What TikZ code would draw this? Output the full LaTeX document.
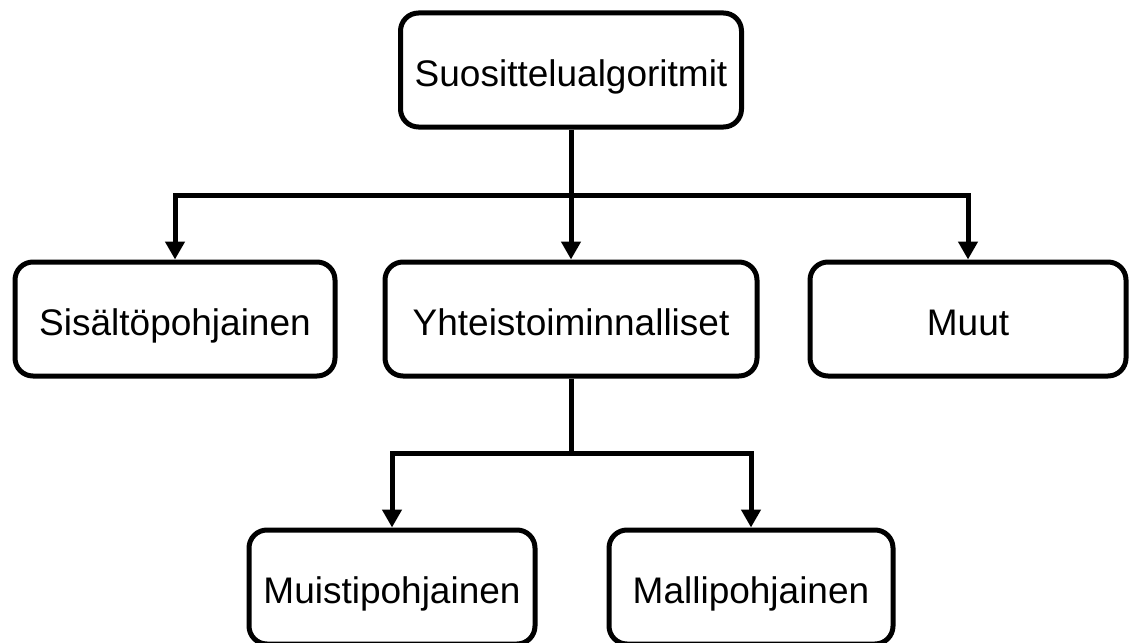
\documentclass[tikz,border=0pt]{standalone}
\usepackage{fontspec}
\setmainfont{Liberation Sans}
\usetikzlibrary{arrows.meta}
\begin{document}
\begin{tikzpicture}[x=1pt,y=-1pt,
  box/.style={draw=black, line width=5pt, rounded corners=18pt, fill=white,
    minimum height=114pt, inner sep=0pt, text height=33pt, text depth=0pt,
    font=\fontsize{37}{42}\selectfont},
  link/.style={line width=5pt, -{Triangle[width=19pt,length=18pt]}},
  trunk/.style={line width=5pt}]
\useasboundingbox (0,0) rectangle (1131,642);

% top level
\node[box, minimum width=341pt] (root) at (571,70) {Suosittelualgoritmit};

% second level
\node[box, minimum width=320pt] (sis) at (175,319) {Sisältöpohjainen};
\node[box, minimum width=372pt] (yht) at (571,319) {Yhteistoiminnalliset};
\node[box, minimum width=316pt] (muut) at (968,319) {Muut};

% third level
\node[box, minimum width=286pt] (muis) at (392,587) {Muistipohjainen};
\node[box, minimum width=284pt] (mal) at (751,587) {Mallipohjainen};

% branch points
\path (root.south) ++(0,65.5) coordinate (bus1);
\path (yht.south) ++(0,75) coordinate (bus2);

% connectors from the root
\draw[trunk] (root.south) -- (bus1);
\draw[link] (bus1) -- (yht.north);
\draw[link] (bus1) -| (sis.north);
\draw[link] (bus1) -| (muut.north);

% connectors from the collaborative node
\draw[trunk] (yht.south) -- (bus2);
\draw[link] (bus2) -| (muis.north);
\draw[link] (bus2) -| (mal.north);
\end{tikzpicture}
\end{document}
